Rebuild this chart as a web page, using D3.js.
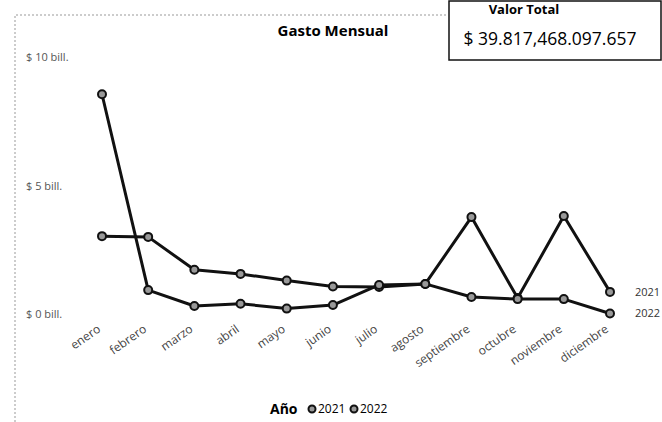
<!DOCTYPE html>
<html>
<head>
<meta charset="utf-8">
<script src="https://cdn.jsdelivr.net/npm/d3@7"></script>
<style>
  body { margin: 0; background: #fff; }
  svg { display: block; font-family: "Open Sans", "DejaVu Sans", sans-serif; }
</style>
</head>
<body>
<div id="chart"></div>
<script>
// Data (billones de pesos)
var meses = ["enero","febrero","marzo","abril","mayo","junio","julio","agosto","septiembre","octubre","noviembre","diciembre"];
var gasto2021 = [3.03, 3.0, 1.72, 1.56, 1.30, 1.07, 1.05, 1.17, 3.77, 0.62, 3.81, 0.86];
var gasto2022 = [8.55, 0.93, 0.31, 0.40, 0.21, 0.35, 1.13, 1.17, 0.66, 0.58, 0.58, 0.02];
var yTicks = [0, 5, 10];
var valorTotal = "$ 39.817,468.097.657";

var W = 662, H = 422;
var svg = d3.select('#chart').append('svg').attr('width', W).attr('height', H);

// dotted frame of the scanned visual
svg.append('path').attr('d', 'M15,422 L15,15 L448,15')
  .attr('fill', 'none').attr('stroke', '#999').attr('stroke-width', 1).attr('stroke-dasharray', '2,2');

var x = d3.scalePoint().domain(meses).range([102, 610]);
var y = d3.scaleLinear().domain([0, 10]).range([314, 57]);

// title
svg.append('text').attr('x', 333).attr('y', 36).attr('text-anchor', 'middle')
  .style('font-size', '15px').style('font-weight', 'bold').text('Gasto Mensual');

// total box
svg.append('rect').attr('x', 449).attr('y', 1).attr('width', 212).attr('height', 59)
  .attr('fill', '#fff').attr('stroke', '#111').attr('stroke-width', 1.5);
svg.append('text').attr('x', 524).attr('y', 14).attr('text-anchor', 'middle')
  .style('font-size', '13px').style('font-weight', 'bold').text('Valor Total');
svg.append('text').attr('x', 550).attr('y', 45).attr('text-anchor', 'middle')
  .style('font-size', '17.5px').text(valorTotal);

// y axis
var yAxis = svg.append('g').attr('transform', 'translate(26,0)')
  .call(d3.axisRight(y).tickValues(yTicks).tickSize(0).tickPadding(0)
    .tickFormat(function(d) { return '$ ' + d + ' bill.'; }));
yAxis.select('.domain').remove();
yAxis.selectAll('text').style('font-size', '11px').style('fill', '#555').style('font-family', '"Open Sans", sans-serif');

// x axis, rotated labels
var xAxis = svg.append('g').attr('transform', 'translate(0,324)')
  .call(d3.axisBottom(x).tickSize(0).tickPadding(0));
xAxis.select('.domain').remove();
xAxis.selectAll('text')
  .style('font-size', '12px').style('fill', '#444').style('font-family', '"Open Sans", sans-serif')
  .attr('text-anchor', 'end').attr('dy', '0.7em')
  .attr('transform', 'translate(-6,0) rotate(-35)');

var line = d3.line().x(function(d, i) { return x(meses[i]); }).y(function(d) { return y(d); });

var series = [
  {name: '2021', values: gasto2021},
  {name: '2022', values: gasto2022}
];

series.forEach(function(s) {
  svg.append('path').datum(s.values).attr('d', line)
    .attr('fill', 'none').attr('stroke', '#111').attr('stroke-width', 3).attr('stroke-linejoin', 'round');
});
series.forEach(function(s) {
  svg.selectAll('.pt' + s.name).data(s.values).enter().append('circle')
    .attr('class', 'pt' + s.name)
    .attr('cx', function(d, i) { return x(meses[i]); })
    .attr('cy', function(d) { return y(d); })
    .attr('r', 4).attr('fill', '#999').attr('stroke', '#111').attr('stroke-width', 2);
  // end label
  svg.append('text').attr('x', x(meses[11]) + 25).attr('y', y(s.values[11])).attr('dy', '0.35em')
    .style('font-size', '11px').style('fill', '#333').text(s.name);
});

// legend
var lg = svg.append('g').attr('transform', 'translate(0,409)');
lg.append('text').attr('x', 270).attr('dy', '0.35em').style('font-size', '14px').style('font-weight', 'bold').text('Año');
series.forEach(function(s, i) {
  var lx = 312 + i * 42;
  lg.append('circle').attr('cx', lx).attr('r', 3.5).attr('fill', '#999').attr('stroke', '#111').attr('stroke-width', 2);
  lg.append('text').attr('x', lx + 6).attr('dy', '0.35em').style('font-size', '12px').text(s.name);
});
</script>
</body>
</html>
